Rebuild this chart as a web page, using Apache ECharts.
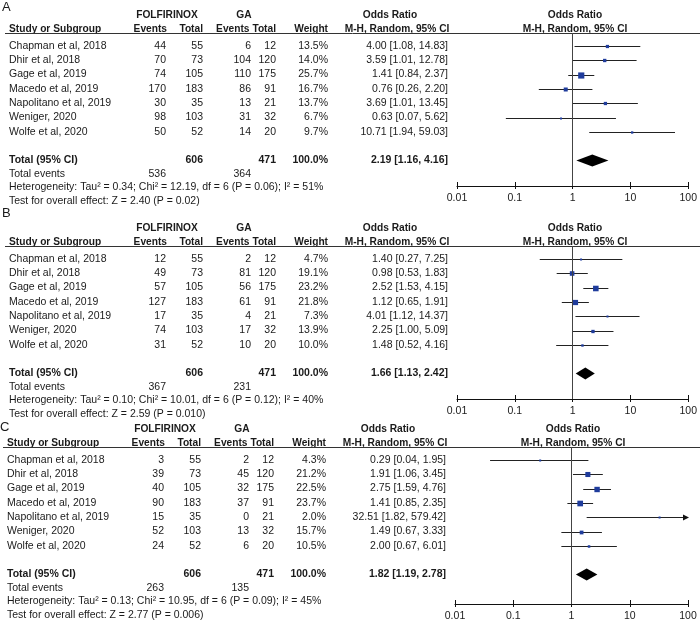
<!DOCTYPE html>
<html><head><meta charset="utf-8">
<script src="https://cdn.jsdelivr.net/npm/echarts@6/dist/echarts.min.js"></script>
<style>html,body{margin:0;padding:0;background:#fff}#c{width:700px;height:634px}</style>
</head><body><div id="c"></div><script>
// ---------- DATA ----------
const studies = ['Chapman et al, 2018','Dhir et al, 2018','Gage et al, 2019','Macedo et al, 2019','Napolitano et al, 2019','Weniger, 2020','Wolfe et al, 2020'];
const folTotal = [55,73,105,183,35,103,52];
const gaTotal = [12,120,175,91,21,32,20];
const groupTotals = [606,471];
const tickLabels = ['0.01','0.1','1','10','100'];

const folEventsA = [44,70,74,170,30,98,50];
const gaEventsA = [6,104,110,86,13,31,14];
const weightA = [13.5,14.0,25.7,16.7,13.7,6.7,9.7];
const orA = [4.00,3.59,1.41,0.76,3.69,0.63,10.71];
const loA = [1.08,1.01,0.84,0.26,1.01,0.07,1.94];
const hiA = [14.83,12.78,2.37,2.20,13.45,5.62,59.03];
const totalA = [2.19,1.16,4.16];
const totEventsA = [536,364];
const hetA = 'Heterogeneity: Tau\u00b2 = 0.34; Chi\u00b2 = 12.19, df = 6 (P = 0.06); I\u00b2 = 51%';
const testA = 'Test for overall effect: Z = 2.40 (P = 0.02)';

const folEventsB = [12,49,57,127,17,74,31];
const gaEventsB = [2,81,56,61,4,17,10];
const weightB = [4.7,19.1,23.2,21.8,7.3,13.9,10.0];
const orB = [1.40,0.98,2.52,1.12,4.01,2.25,1.48];
const loB = [0.27,0.53,1.53,0.65,1.12,1.00,0.52];
const hiB = [7.25,1.83,4.15,1.91,14.37,5.09,4.16];
const totalB = [1.66,1.13,2.42];
const totEventsB = [367,231];
const hetB = 'Heterogeneity: Tau\u00b2 = 0.10; Chi\u00b2 = 10.01, df = 6 (P = 0.12); I\u00b2 = 40%';
const testB = 'Test for overall effect: Z = 2.59 (P = 0.010)';

const folEventsC = [3,39,40,90,15,52,24];
const gaEventsC = [2,45,32,37,0,13,6];
const weightC = [4.3,21.2,22.5,23.7,2.0,15.7,10.5];
const orC = [0.29,1.91,2.75,1.41,32.51,1.49,2.00];
const loC = [0.04,1.06,1.59,0.85,1.82,0.67,0.67];
const hiC = [1.95,3.45,4.76,2.35,579.42,3.33,6.01];
const totalC = [1.82,1.19,2.78];
const totEventsC = [263,135];
const hetC = 'Heterogeneity: Tau\u00b2 = 0.13; Chi\u00b2 = 10.95, df = 6 (P = 0.09); I\u00b2 = 45%';
const testC = 'Test for overall effect: Z = 2.77 (P = 0.006)';

// ---------- LAYOUT ----------
const FONT = '"Liberation Sans", Arial, sans-serif';
const FS = 10.5, HFS = 10.2;
const TXT = '#1a1a1a';
const BLUE = '#1f3c9c';
const SP = 14.3;          // row spacing px
const XMIN = 0.01, XMAX = 100;
const H1 = -2.17, H2 = -1.19;
const panels = [
  {letter:'A', o:0,   dx:0,  ax:0, letterRow:-2.73, fol:folEventsA, ga:gaEventsA, w:weightA, or:orA, lo:loA, hi:hiA, tot:totalA, te:totEventsA, het:hetA, test:testA},
  {letter:'B', o:213, dx:0,  ax:0, letterRow:-3.2,  fol:folEventsB, ga:gaEventsB, w:weightB, or:orB, lo:loB, hi:hiB, tot:totalB, te:totEventsB, het:hetB, test:testB},
  {letter:'C', o:414, dx:-2, ax:4, letterRow:-2.25, fol:folEventsC, ga:gaEventsC, w:weightC, or:orC, lo:loC, hi:hiC, tot:totalC, te:totEventsC, het:hetC, test:testC}
];
const fmt = (a,b,c) => a.toFixed(2)+' ['+b.toFixed(2)+', '+c.toFixed(2)+']';

function tableItems(p){
  const it = [];
  const T = (x,row,text,align,bold,size) => it.push({x:x+p.dx,row,text:String(text),align,bold:!!bold,size:size||FS});
  T(2, p.letterRow, p.letter, 'left', false, 13);
  T(167, H1, 'FOLFIRINOX', 'center', true, HFS);
  T(244, H1, 'GA', 'center', true, HFS);
  T(390, H1, 'Odds Ratio', 'center', true, HFS);
  T(575, H1, 'Odds Ratio', 'center', true, HFS);
  T(9, H2, 'Study or Subgroup', 'left', true, HFS);
  T(167, H2, 'Events', 'right', true, HFS);
  T(203, H2, 'Total', 'right', true, HFS);
  T(249.5, H2, 'Events', 'right', true, HFS);
  T(276, H2, 'Total', 'right', true, HFS);
  T(328, H2, 'Weight', 'right', true, HFS);
  T(397, H2, 'M-H, Random, 95% CI', 'center', true, HFS);
  T(575, H2, 'M-H, Random, 95% CI', 'center', true, HFS);
  studies.forEach((s,i)=>{
    T(9, i, s, 'left');
    T(166, i, p.fol[i], 'right');
    T(203, i, folTotal[i], 'right');
    T(251, i, p.ga[i], 'right');
    T(276, i, gaTotal[i], 'right');
    T(328, i, p.w[i].toFixed(1)+'%', 'right');
    T(448, i, fmt(p.or[i],p.lo[i],p.hi[i]), 'right');
  });
  T(9, 8, 'Total (95% CI)', 'left', true);
  T(203, 8, groupTotals[0], 'right', true);
  T(276, 8, groupTotals[1], 'right', true);
  T(328, 8, '100.0%', 'right', true);
  T(448, 8, fmt(p.tot[0],p.tot[1],p.tot[2]), 'right', true);
  T(9, 8.95, 'Total events', 'left');
  T(166, 8.95, p.te[0], 'right');
  T(251, 8.95, p.te[1], 'right');
  T(9, 9.9, p.het, 'left');
  T(9, 10.84, p.test, 'left');
  return it;
}

const grids=[], xAxes=[], yAxes=[], series=[];
panels.forEach((p,k)=>{
  const top = 33 + p.o, height = 153 + p.ax;
  const yMin = -13/SP, yMax = (140 + p.ax)/SP;
  grids.push({left:0, width:700, top, height});
  grids.push({left:457+p.dx, width:233, top, height});
  const gT = 2*k, gP = 2*k+1;
  xAxes.push({gridIndex:gT, type:'value', min:0, max:700, show:false});
  const xiT = xAxes.length-1;
  xAxes.push({gridIndex:gP, type:'log', logBase:10, min:XMIN, max:XMAX, position:'bottom',
    axisLine:{show:true, onZero:false, lineStyle:{color:'#111', width:1}},
    axisTick:{show:true, inside:true, length:4, lineStyle:{color:'#111'}},
    axisLabel:{show:true, margin:7, color:TXT, fontFamily:FONT, fontSize:FS,
      formatter:v=>tickLabels[Math.round(Math.log10(v))+2]},
    splitLine:{show:false}});
  const xiP = xAxes.length-1;
  xAxes.push({gridIndex:gP, type:'log', logBase:10, min:XMIN, max:XMAX, position:'bottom', offset:0,
    axisLine:{show:false, onZero:false}, axisTick:{show:true, inside:false, length:3, lineStyle:{color:'#111'}},
    axisLabel:{show:false}, splitLine:{show:false}});
  yAxes.push({gridIndex:gT, type:'value', min:yMin, max:yMax, inverse:true, show:false});
  const yiT = yAxes.length-1;
  yAxes.push({gridIndex:gP, type:'value', min:yMin, max:yMax, inverse:true, show:false});
  const yiP = yAxes.length-1;

  const items = tableItems(p);
  series.push({
    type:'custom', xAxisIndex:xiT, yAxisIndex:yiT, clip:false, silent:true,
    encode:{x:0,y:1},
    data: items.map(d=>[d.x,d.row]),
    renderItem:(params, api)=>{
      const d = items[params.dataIndex];
      const pt = api.coord([api.value(0), api.value(1)]);
      return {type:'text', x:pt[0], y:pt[1], style:{text:d.text, fill:TXT,
        font:(d.bold?'bold ':'')+d.size+'px '+FONT, align:d.align, verticalAlign:'middle'}};
    }
  });
  series.push({
    type:'custom', xAxisIndex:xiT, yAxisIndex:yiT, clip:false, silent:true,
    encode:{x:0,y:1},
    data:[[5, yMin]],
    renderItem:(params, api)=>{
      const a = api.coord([5, yMin]), b = api.coord([700, yMin]);
      const y = Math.round(a[1])+0.5;
      return {type:'line', shape:{x1:a[0]+p.dx,y1:y,x2:b[0],y2:y}, style:{stroke:'#333', lineWidth:1}};
    }
  });
  series.push({
    type:'custom', xAxisIndex:xiP, yAxisIndex:yiP, clip:false, silent:true,
    encode:{x:0,y:3},
    data: studies.map((s,i)=>[p.or[i], p.lo[i], p.hi[i], i, p.w[i]]),
    renderItem:(params, api)=>{
      const or=api.value(0), lo=api.value(1), hi=api.value(2), row=api.value(3), w=api.value(4);
      const pL = api.coord([Math.max(lo,XMIN), row]);
      const pR = api.coord([Math.min(hi,XMAX), row]);
      const pC = api.coord([or, row]);
      const y = Math.round(pC[1])+0.5;
      const s = Math.max(2, w*0.24);
      const ch = [{type:'line', shape:{x1:pL[0],y1:y,x2:pR[0],y2:y}, style:{stroke:'#222', lineWidth:1}}];
      if (hi > XMAX) ch.push({type:'polygon', shape:{points:[[pR[0]+1,y],[pR[0]-5,y-3],[pR[0]-5,y+3]]}, style:{fill:'#111'}});
      ch.push({type:'rect', shape:{x:pC[0]-s/2, y:y-s/2, width:s, height:s}, style:{fill:BLUE}});
      return {type:'group', children:ch};
    },
    markLine:{silent:true, symbol:'none', animation:false, label:{show:false},
      lineStyle:{color:'#444', type:'solid', width:1}, data:[{xAxis:1}]}
  });
  series.push({
    type:'custom', xAxisIndex:xiP, yAxisIndex:yiP, clip:false, silent:true,
    encode:{x:0,y:3},
    data:[[p.tot[0], p.tot[1], p.tot[2], 8]],
    renderItem:(params, api)=>{
      const row = api.value(3);
      const c = api.coord([api.value(0), row]);
      const l = api.coord([api.value(1), row]);
      const r = api.coord([api.value(2), row]);
      const h = 6;
      return {type:'polygon', shape:{points:[[l[0],c[1]],[c[0],c[1]-h],[r[0],c[1]],[c[0],c[1]+h]]}, style:{fill:'#000'}};
    }
  });
});

const chart = echarts.init(document.getElementById('c'), null, {renderer:'canvas'});
chart.setOption({animation:false, backgroundColor:'#fff', grid:grids, xAxis:xAxes, yAxis:yAxes, series});
</script></body></html>
